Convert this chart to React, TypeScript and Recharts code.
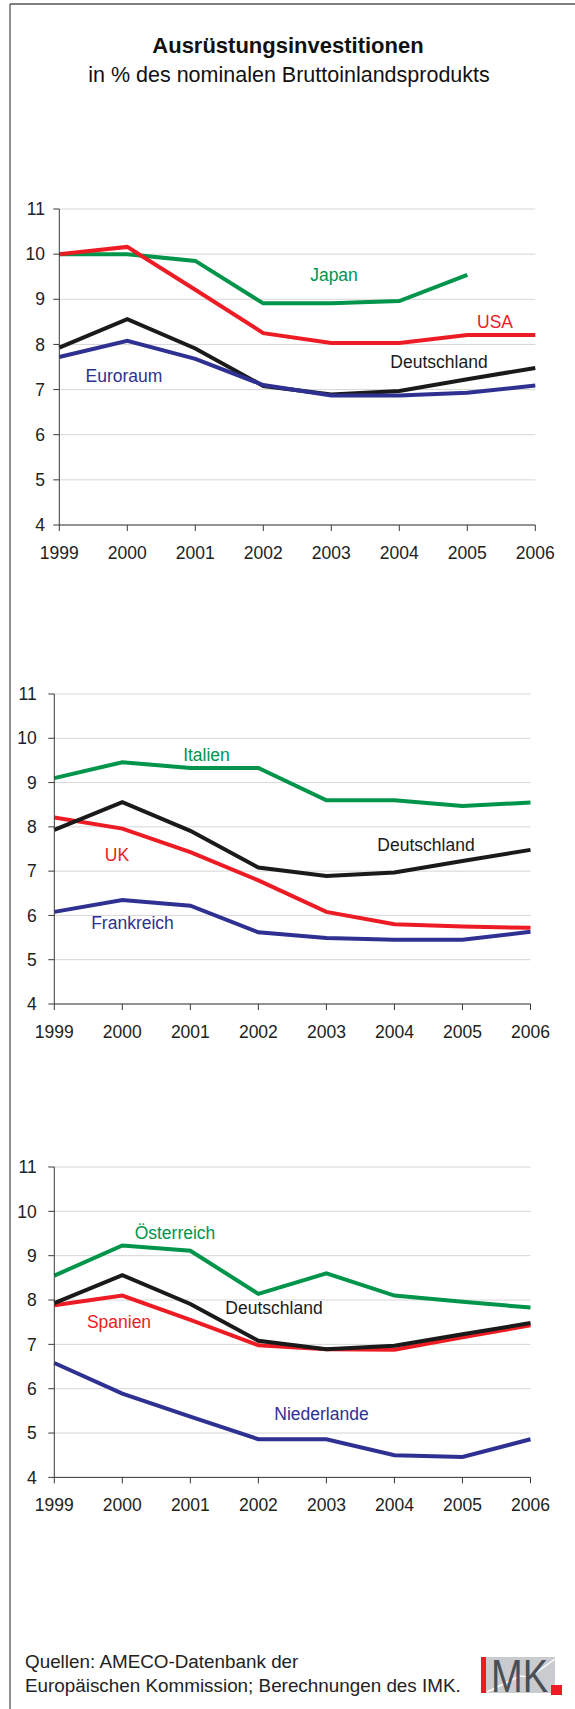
import React from 'react'
import { LineChart, Line, XAxis, YAxis, CartesianGrid } from 'recharts'

const YEARS = ['1999', '2000', '2001', '2002', '2003', '2004', '2005', '2006']
const Y_TICKS = [4, 5, 6, 7, 8, 9, 10, 11]

// Deutschland appears in all three panels
const DEUTSCHLAND = [7.93, 8.56, 7.91, 7.08, 6.89, 6.97, 7.23, 7.48]

// panel 1
const JAPAN = [10.0, 10.0, 9.85, 8.91, 8.91, 8.96, 9.54, null]
const USA = [10.0, 10.16, 9.21, 8.25, 8.03, 8.03, 8.21, 8.21]
const EURORAUM = [7.72, 8.08, 7.68, 7.1, 6.87, 6.87, 6.93, 7.09]

// panel 2
const ITALIEN = [9.1, 9.46, 9.33, 9.33, 8.6, 8.6, 8.47, 8.55]
const UK = [8.21, 7.96, 7.43, 6.79, 6.08, 5.8, 5.75, 5.72]
const FRANKREICH = [6.08, 6.35, 6.22, 5.62, 5.49, 5.45, 5.45, 5.63]

// panel 3
const OESTERREICH = [8.55, 9.23, 9.11, 8.14, 8.6, 8.1, 7.96, 7.83]
const SPANIEN = [7.88, 8.1, 7.55, 6.98, 6.89, 6.88, 7.16, 7.43]
const NIEDERLANDE = [6.58, 5.89, 5.37, 4.86, 4.86, 4.5, 4.46, 4.86]

const C = {
  green: '#00954a',
  red: '#ed1c24',
  black: '#1a1a1a',
  blue: '#2e3192',
  grid: '#d6d6d6',
  axis: '#3a3a3a',
  text: '#222',
}

const FONT = '"Liberation Sans", Arial, sans-serif'
const FS = 17.5

type Series = { key: string; values: (number | null)[]; color: string }
type Panel = {
  top: number
  bottom: number
  left: number
  right: number
  yMargin: number
  series: Series[]
  labels: { text: string; x: number; y: number; color: string }[]
}

const PANELS: Panel[] = [
  {
    top: 209.3, bottom: 525.3, left: 59.3, right: 535.3, yMargin: 8.3,
    series: [
      { key: 'Japan', values: JAPAN, color: C.green },
      { key: 'USA', values: USA, color: C.red },
      { key: 'Deutschland', values: DEUTSCHLAND, color: C.black },
      { key: 'Euroraum', values: EURORAUM, color: C.blue },
    ],
    labels: [
      { text: 'Japan', x: 334, y: 275, color: C.green },
      { text: 'USA', x: 495, y: 322, color: C.red },
      { text: 'Deutschland', x: 439, y: 362, color: C.black },
      { text: 'Euroraum', x: 124, y: 376, color: C.blue },
    ],
  },
  {
    top: 694.3, bottom: 1004.3, left: 54.3, right: 530.5, yMargin: 11.6,
    series: [
      { key: 'Italien', values: ITALIEN, color: C.green },
      { key: 'UK', values: UK, color: C.red },
      { key: 'Deutschland', values: DEUTSCHLAND, color: C.black },
      { key: 'Frankreich', values: FRANKREICH, color: C.blue },
    ],
    labels: [
      { text: 'Italien', x: 206.5, y: 755, color: C.green },
      { text: 'Deutschland', x: 426, y: 844.3, color: C.black },
      { text: 'UK', x: 117, y: 854.3, color: C.red },
      { text: 'Frankreich', x: 132.5, y: 922.7, color: C.blue },
    ],
  },
  {
    top: 1167.3, bottom: 1477.7, left: 54.3, right: 530.5, yMargin: 11.6,
    series: [
      { key: 'Österreich', values: OESTERREICH, color: C.green },
      { key: 'Spanien', values: SPANIEN, color: C.red },
      { key: 'Deutschland', values: DEUTSCHLAND, color: C.black },
      { key: 'Niederlande', values: NIEDERLANDE, color: C.blue },
    ],
    labels: [
      { text: 'Österreich', x: 175, y: 1233, color: C.green },
      { text: 'Deutschland', x: 274, y: 1307.7, color: C.black },
      { text: 'Spanien', x: 119, y: 1322, color: C.red },
      { text: 'Niederlande', x: 321.5, y: 1413.7, color: C.blue },
    ],
  },
]

function PanelChart({ p }: { p: Panel }) {
  const data = YEARS.map((year, i) => {
    const row: Record<string, string | number | null> = { year }
    p.series.forEach((s) => { row[s.key] = s.values[i] })
    return row
  })
  const pad = 30
  const height = p.bottom - p.top + pad * 2 + 30
  return (
    <div style={{ position: 'absolute', left: 0, top: p.top - pad, width: 575, height }}>
      <LineChart
        width={575}
        height={height}
        data={data}
        margin={{ top: pad, right: 575 - p.right, bottom: pad, left: 0 }}
      >
        <CartesianGrid stroke={C.grid} vertical={false} />
        <XAxis
          dataKey="year"
          height={30}
          interval={0}
          tickSize={6}
          tickMargin={15.5}
          axisLine={{ stroke: C.axis }}
          tickLine={{ stroke: C.axis }}
          tick={{ fill: C.text, fontSize: FS, fontFamily: FONT }}
        />
        <YAxis
          type="number"
          domain={[4, 11]}
          ticks={Y_TICKS}
          interval={0}
          width={p.left}
          tickSize={6}
          tickMargin={p.yMargin}
          axisLine={{ stroke: C.axis }}
          tickLine={{ stroke: C.axis }}
          tick={{ fill: C.text, fontSize: FS, fontFamily: FONT }}
        />
        {p.series.map((s) => (
          <Line
            key={s.key}
            dataKey={s.key}
            stroke={s.color}
            strokeWidth={4}
            dot={false}
            activeDot={false}
            connectNulls={false}
            isAnimationActive={false}
          />
        ))}
      </LineChart>
    </div>
  )
}

export default function App() {
  return (
    <div style={{ position: 'absolute', left: 0, top: 0, width: 575, height: 1709, background: '#fff' }}>
      {PANELS.map((p, i) => <PanelChart key={i} p={p} />)}
      <svg
        width={575}
        height={1709}
        style={{ position: 'absolute', left: 0, top: 0, pointerEvents: 'none' }}
        fontFamily={FONT}
      >
        <line x1={10} y1={4} x2={575} y2={4} stroke="#555" strokeWidth={1.3} />
        <line x1={10} y1={4} x2={10} y2={1709} stroke="#555" strokeWidth={1.3} />

        <text x={288} y={53} textAnchor="middle" fontSize={22} fontWeight="bold" fill="#111">
          Ausrüstungsinvestitionen
        </text>
        <text x={289} y={82} textAnchor="middle" fontSize={21.5} fill="#111">
          in % des nominalen Bruttoinlandsprodukts
        </text>

        {PANELS.flatMap((p, i) =>
          p.labels.map((l) => (
            <text
              key={i + l.text}
              x={l.x}
              y={l.y + FS * 0.36}
              textAnchor="middle"
              fontSize={FS}
              fill={l.color}
            >
              {l.text}
            </text>
          ))
        )}

        <text x={25} y={1668} fontSize={18.85} fill="#222">Quellen: AMECO-Datenbank der</text>
        <text x={25} y={1692} fontSize={18.85} fill="#222">
          Europäischen Kommission; Berechnungen des IMK.
        </text>

        <rect x={481} y={1657} width={5} height={36} fill={C.red} />
        <rect x={486} y={1657} width={69} height={36} fill="#c9cbce" />
        <polyline points="487,1692 520,1676 530,1677 555,1659" fill="none" stroke="#fff" strokeWidth={1.5} />
        <text
          x={491}
          y={1692}
          fontSize={46}
          fill="#4a4f55"
          textLength={57}
          lengthAdjust="spacingAndGlyphs"
          fontFamily='"Liberation Sans Narrow", "Liberation Sans", Arial'
        >
          MK
        </text>
        <rect x={551} y={1685} width={11} height={10} fill={C.red} />
      </svg>
    </div>
  )
}
